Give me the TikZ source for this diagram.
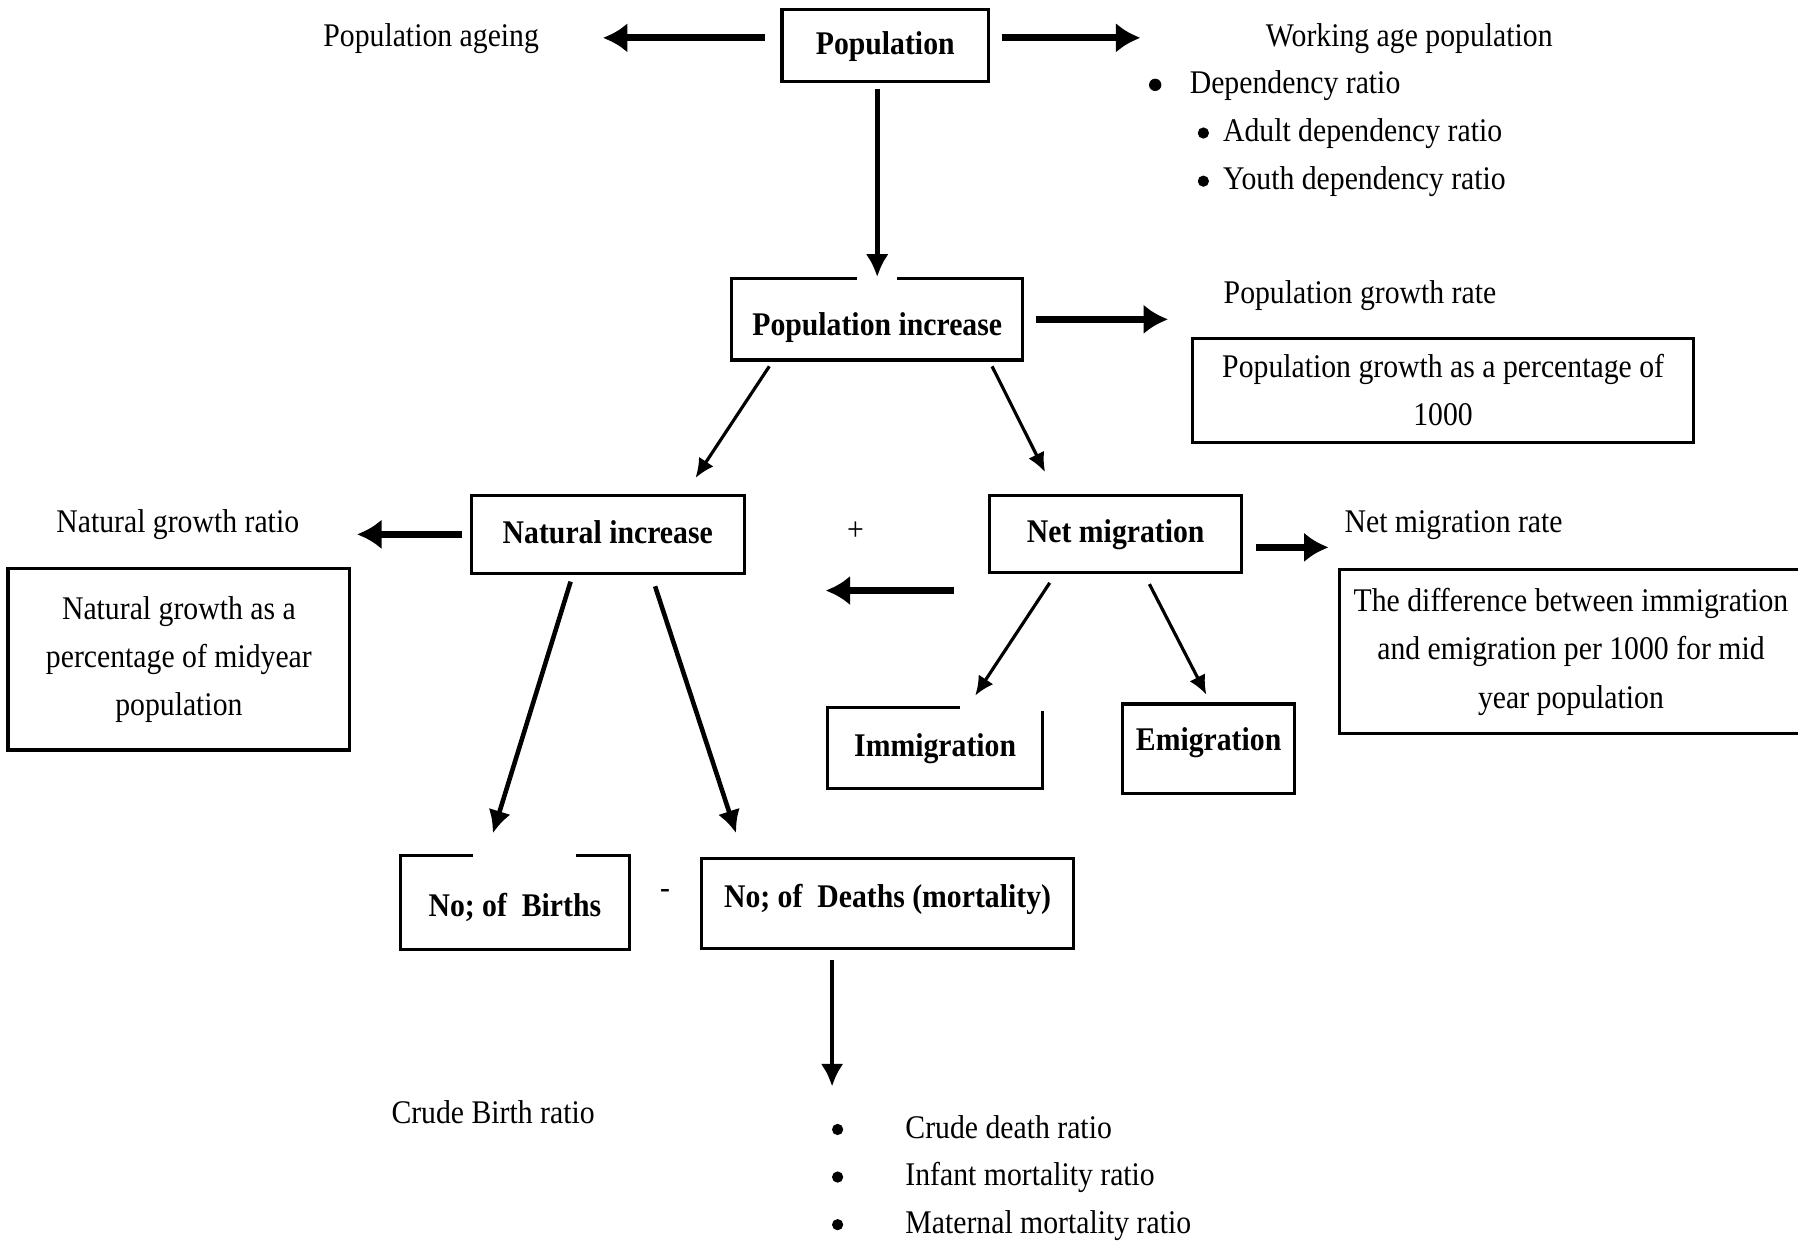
\documentclass[tikz,border=0pt]{standalone}
\usepackage{fontspec}
\setmainfont[FakeStretch=0.9]{Liberation Serif}
\usetikzlibrary{positioning, calc, arrows.meta}

% one picture pixel
\newcommand{\upx}{0.11467mm}
\newcommand{\diagfont}{\fontsize{9.4pt}{13.7pt}\selectfont}

\begin{document}
\begin{tikzpicture}[
    x=\upx, y=-\upx,
    font=\diagfont,
    txt/.style={inner sep=0pt, text height=7pt, text depth=2pt},
    dot/.style={circle, fill=black, inner sep=0pt, minimum size=3.2pt},
    boxstyle/.style={
        draw, line width=0.9pt, inner sep=0pt,
        font=\diagfont\bfseries, text height=7pt, text depth=2pt
    },
    parabox/.style={draw, line width=0.9pt, inner sep=0pt, align=center},
    boxsize/.style 2 args={minimum width=#1*\upx, minimum height=#2*\upx},
    fatarrow/.style={-{Latex[length=7pt, width=8.5pt]}, line width=2pt},
    arrow/.style={-{Latex[length=6.5pt, width=6.5pt]}, line width=1.3pt},
    thinarrow/.style={-{Latex[length=5.5pt, width=5pt]}, line width=0.9pt},
    gap/.style={white, line width=2.2pt}
]

\useasboundingbox (0,0) rectangle (1568,1083);

% boxes
\node[boxstyle, boxsize={180}{63}] (pop) at (772,39.5) {Population};
\node[boxstyle, boxsize={254}{71}, text height=11pt] (inc) at (765,278.5) {Population increase};
\node[boxstyle, boxsize={238}{68}] (nat) at (530,466) {Natural increase};
\node[boxstyle, boxsize={220}{67}] (net) at (973,465.5) {Net migration};
\node[boxstyle, boxsize={187}{71}] (imm) at (815.5,652.5) {Immigration};
\node[boxstyle, boxsize={150}{78}, text depth=6pt] (emi) at (1054,653) {Emigration};
\node[boxstyle, boxsize={200}{82}, text height=10.2pt] (bir) at (449,787) {No; of\ \ Births};
\node[boxstyle, boxsize={324}{78}, text depth=4.6pt] (dea) at (774,788) {No; of\ \ Deaths (mortality)};

\node[parabox, boxsize={437}{91}] (pgrbox) at (1258.5,340.5)
    {Population growth as a percentage of\\1000};
\node[parabox, boxsize={298}{158}] (ngbox) at (156,575)
    {Natural growth as a\\percentage of midyear\\population};
\node[parabox, boxsize={404}{143}] (nmbox) at (1370,568.5)
    {The difference between immigration\\and emigration per 1000 for mid\\year population};

% labels
\node[txt] (ageing) at (376,33) {Population ageing};
\node[txt] (wap) at (1229,33) {Working age population};
\node[txt, anchor=west] (dep) at (1037,74) {Dependency ratio};
\node[txt, anchor=west] (adr) at (1066,116) {Adult dependency ratio};
\node[txt, anchor=west] (ydr) at (1066,158) {Youth dependency ratio};
\node[dot, minimum size=3.5pt, left=7.7pt of dep] {};
\node[dot, left=3.6pt of adr] {};
\node[dot, left=3.6pt of ydr] {};
\node[txt] (pgr) at (1186,257) {Population growth rate};
\node[txt] (ngr) at (155,457) {Natural growth ratio};
\node[txt, anchor=west] (nmr) at (1172,457) {Net migration rate};
\node[txt] (plus) at (746,464) {+};
\node[txt] (minus) at (580,776) {-};
\node[txt] (cbr) at (430,972) {Crude Birth ratio};
\foreach \t [count=\i] in {Crude death ratio, Infant mortality ratio, Maternal mortality ratio}{
  \node[txt, anchor=west] (d\i) at (789,{985+41.5*(\i-1)}) {\t};
  \node[dot, left=17.3pt of d\i] {};
}

% openings in the box borders
\draw[gap] ($(inc.north west)!0.433!(inc.north east)$) -- ($(inc.north west)!0.567!(inc.north east)$);
\draw[gap] ($(bir.north west)!0.32!(bir.north east)$) -- ($(bir.north west)!0.765!(bir.north east)$);
\draw[gap] ($(imm.north west)!0.615!(imm.north east)$) -- (imm.north east)
    -- ($(imm.north east)!0.06!(imm.south east)$);

% arrows
\draw[fatarrow, shorten <=4.5pt, shorten >=18pt] (pop.west |- ageing.east) -- (ageing.east);
\draw[fatarrow, shorten <=3.3pt, shorten >=35.5pt] (pop.east |- wap.west) -- (wap.west);
\draw[arrow, shorten <=1.6pt] (pop.south -| inc.north) -- (inc.north);

\draw[fatarrow, shorten <=3.3pt, shorten >=6.5pt] (inc.east) -- (inc.east -| pgrbox.west);
\draw[thinarrow, shorten <=1.6pt, shorten >=5.4pt]
    ($(inc.south west)!0.144!(inc.south east)$) -- ($(nat.north west)!0.78!(nat.north east)$);
\draw[thinarrow, shorten <=1.5pt, shorten >=6.9pt]
    ($(inc.south west)!0.882!(inc.south east)$) -- ($(net.north west)!0.266!(net.north east)$);

\draw[fatarrow, shorten <=2.3pt, shorten >=1.6pt] (nat.west) -- (nat.west -| ngbox.east);
\draw[arrow, shorten <=2pt, shorten >=6.1pt]
    ($(nat.south west)!0.373!(nat.south east)$) -- ($(bir.north west)!0.378!(bir.north east)$);
\draw[arrow, shorten <=3.4pt, shorten >=7.2pt]
    ($(nat.south west)!0.658!(nat.south east)$) -- ($(dea.north west)!0.117!(dea.north east)$);

\coordinate (mfrom) at (832,515);
\coordinate (mto) at (720,515);
\draw[fatarrow] (mfrom) -- (mto);

\coordinate (nmout) at ($(net.south east)!0.33!(net.north east)$);
\draw[fatarrow, shorten <=3.6pt, shorten >=2.6pt] (nmout) -- (nmout -| nmbox.west);
\draw[thinarrow, shorten <=3.1pt, shorten >=3.5pt]
    ($(net.south west)!0.265!(net.south east)$) -- ($(imm.north west)!0.653!(imm.north east)$);
\draw[thinarrow, shorten <=3.3pt, shorten >=2.5pt]
    ($(net.south west)!0.611!(net.south east)$) -- ($(emi.north west)!0.51!(emi.north east)$);

\coordinate (dout) at ($(dea.south west)!0.352!(dea.south east)$);
\draw[arrow, shorten <=2.9pt, shorten >=7.5pt] (dout) -- (dout |- d1.north);

\end{tikzpicture}
\end{document}
